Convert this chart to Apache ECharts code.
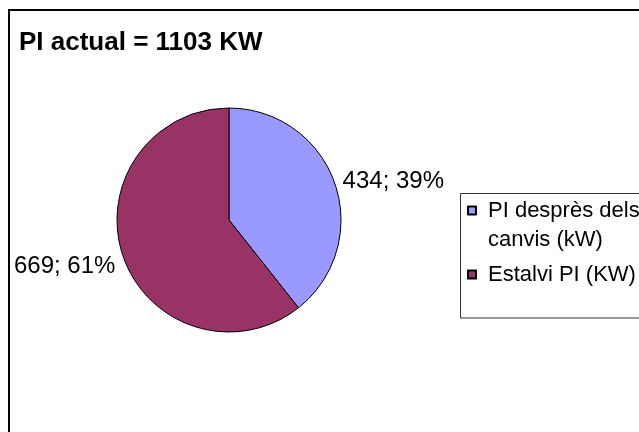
<!DOCTYPE html>
<html>
<head>
<meta charset="utf-8">
<script src="https://cdn.jsdelivr.net/npm/echarts@6/dist/echarts.min.js"></script>
<style>
html,body{margin:0;padding:0;background:#fff;}
#chart{width:639px;height:432px;}
</style>
</head>
<body>
<div id="chart"></div>
<script>
const titleText = 'PI actual = 1103 KW';
const categories = ['PI desprès dels canvis (kW)', 'Estalvi PI (KW)'];
const values = [434, 669];
const colors = ['#9999FF', '#993366'];

const FONT = '"Liberation Sans", Arial, sans-serif';
const chart = echarts.init(document.getElementById('chart'), null, {renderer: 'canvas'});

const data = categories.map((name, i) => ({
  name: name,
  value: values[i],
  itemStyle: {color: colors[i]}
}));

const PIE_CY = 220;

chart.setOption({
  animation: false,
  backgroundColor: '#ffffff',
  title: {
    text: titleText,
    left: 19,
    top: 30,
    padding: 0,
    textStyle: {fontFamily: FONT, fontSize: 26, fontWeight: 'bold', color: '#000'}
  },
  legend: {
    orient: 'vertical',
    left: 467,
    top: 167,
    padding: 0,
    itemGap: 6,
    itemWidth: 8,
    itemHeight: 8,
    icon: 'rect',
    formatter: function (name) {
      // wrapped like the reference; a blank first line keeps the marker level with the first text line
      return name.indexOf(' canvis') >= 0 ? '\u00a0\n' + name.replace(' canvis', '\ncanvis') : name;
    },
    textStyle: {fontFamily: FONT, fontSize: 22, color: '#000', lineHeight: 29, padding: [0, 0, 0, 7]},
    data: categories
  },
  graphic: [
    {type: 'rect', shape: {x: 9, y: 10, width: 700, height: 500}, style: {fill: 'none', stroke: '#000', lineWidth: 2}, silent: true, z: 100},
    {type: 'rect', shape: {x: 460.5, y: 193.5, width: 300, height: 124.5}, style: {fill: 'none', stroke: '#333', lineWidth: 1}, silent: true, z: 100}
  ],
  series: [{
    type: 'pie',
    center: [229, PIE_CY],
    radius: 112,
    startAngle: 90,
    clockwise: true,
    percentPrecision: 0,
    itemStyle: {borderColor: '#000', borderWidth: 1},
    label: {
      show: true,
      position: 'outside',
      formatter: '{c}; {d}%',
      fontFamily: FONT,
      fontSize: 24,
      color: '#000',
      overflow: 'none'
    },
    labelLine: {show: false, length: 3, length2: 0},
    labelLayout: function (params) {
      const r = params.labelRect;
      return {dy: (r.y + r.height / 2 > PIE_CY) ? 9 : -1};
    },
    emphasis: {disabled: true},
    data: data
  }]
});
</script>
</body>
</html>
